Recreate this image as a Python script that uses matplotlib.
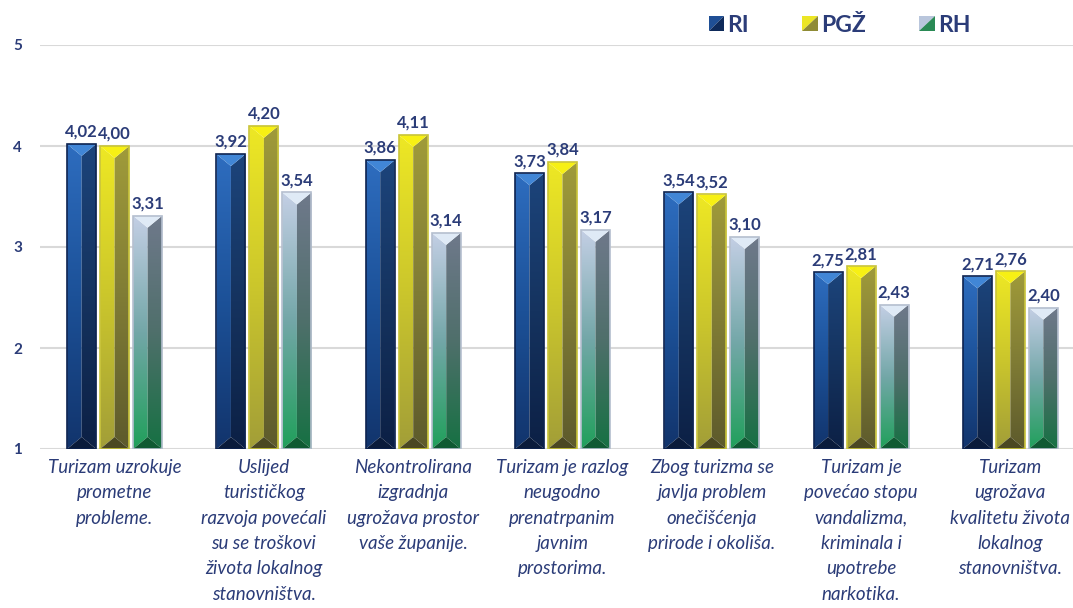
import numpy as np
import matplotlib.pyplot as plt
from matplotlib.patches import Polygon, Patch
from matplotlib.colors import LinearSegmentedColormap
from matplotlib.legend_handler import HandlerBase

plt.rcParams['font.family'] = ['Lato', 'DejaVu Sans']

# --- podaci ---
categories = [
    "Turizam uzrokuje\nprometne\nprobleme.",
    "Uslijed\nturističkog\nrazvoja povećali\nsu se troškovi\nživota lokalnog\nstanovništva.",
    "Nekontrolirana\nizgradnja\nugrožava prostor\nvaše županije.",
    "Turizam je razlog\nneugodno\nprenatrpanim\njavnim\nprostorima.",
    "Zbog turizma se\njavlja problem\nonečišćenja\nprirode i okoliša.",
    "Turizam je\npovećao stopu\nvandalizma,\nkriminala i\nupotrebe\nnarkotika.",
    "Turizam\nugrožava\nkvalitetu života\nlokalnog\nstanovništva.",
]
ri = [4.02, 3.92, 3.86, 3.73, 3.54, 2.75, 2.71]
pgz = [4.00, 4.20, 4.11, 3.84, 3.52, 2.81, 2.76]
rh = [3.31, 3.54, 3.14, 3.17, 3.10, 2.43, 2.40]
series_names = ["RI", "PGŽ", "RH"]
y_ticks = [1, 2, 3, 4, 5]

NAVY = "#2b3c78"

# boje: lijevo lice (gore->dolje), desno lice, vrh, dno, rub
styles = {
    "RI": dict(left=["#2e6dbf", "#1c5198", "#12346c"], right=["#1c447b", "#15335f", "#0c2045"],
               cap="#4186d6", base="#0a1b3b", edge="#0d2350"),
    "PGŽ": dict(left=["#eee824", "#cbc62c", "#a29e38"], right=["#a09b3a", "#807c35", "#5d5a2c"],
                cap="#f7f014", base="#4b4822", edge="#c9c43a"),
    "RH": dict(left=["#c4cfe5", "#73a7a8", "#20a05b"], right=["#6f798b", "#4f6f6b", "#167143"],
               cap="#dfeaf6", base="#0f5a33", edge="#b5bfcf"),
}

W, H, DPI = 1073, 608, 100
fig = plt.figure(figsize=(W / DPI, H / DPI), dpi=DPI)
ax = fig.add_axes([40 / W, 159 / H, 1045 / W, 404 / H])

x = np.arange(len(categories))
bw = 0.195
step = 0.221
ylim = (1, 5)
ax.set_xlim(-0.5, len(categories) - 0.5)
ax.set_ylim(*ylim)

# dubina kosine u jedinicama podataka
ppu_y = 404 / (ylim[1] - ylim[0])
dh = 12 / ppu_y

grad = np.linspace(0, 1, 256).reshape(-1, 1)


def face(verts, colors, x0, x1, y0, y1):
    cmap = LinearSegmentedColormap.from_list("g", colors[::-1])
    poly = Polygon(verts, closed=True, facecolor="none", edgecolor="none")
    ax.add_patch(poly)
    im = ax.imshow(grad, cmap=cmap, extent=[x0, x1, y0, y1], origin="lower",
                   aspect="auto", zorder=2, interpolation="bilinear")
    im.set_clip_path(poly)


for k, (name, vals) in enumerate(zip(series_names, [ri, pgz, rh])):
    st = styles[name]
    bars = ax.bar(x + (k - 1) * step, np.array(vals) - ylim[0], bw, bottom=ylim[0],
                  color="none", edgecolor=st["edge"], linewidth=1.2, zorder=4)
    for b, v in zip(bars, vals):
        x0, y0 = b.get_x(), b.get_y()
        x1, y1 = x0 + b.get_width(), y0 + b.get_height()
        xc = (x0 + x1) / 2
        face([(x0, y0), (x0, y1), (xc, y1 - dh), (xc, y0 + dh)], st["left"], x0, x1, y0, y1)
        face([(xc, y0 + dh), (xc, y1 - dh), (x1, y1), (x1, y0)], st["right"], x0, x1, y0, y1)
        ax.add_patch(Polygon([(x0, y1), (x1, y1), (xc, y1 - dh)], closed=True,
                             facecolor=st["cap"], edgecolor="none", zorder=3))
        ax.add_patch(Polygon([(x0, y0), (x1, y0), (xc, y0 + dh)], closed=True,
                             facecolor=st["base"], edgecolor="none", zorder=3))
        ax.annotate(f"{v:.2f}".replace(".", ","), (xc, y1), xytext=(0, 3),
                    textcoords="offset points", ha="center", va="bottom",
                    fontsize=12, color=NAVY, fontweight="bold")

ax.set_xlim(-0.5, len(categories) - 0.5)
ax.set_ylim(*ylim)

ax.set_yticks(y_ticks)
ax.set_yticklabels([str(t) for t in y_ticks], fontsize=11, fontweight="bold", color=NAVY)
ax.set_xticks(x)
ax.set_xticklabels(categories, fontsize=13.5, fontstyle="italic", color=NAVY, linespacing=1.6,
                   va="top")
ax.tick_params(axis="both", length=0)
ax.tick_params(axis="y", pad=13)
ax.tick_params(axis="x", pad=7)
ax.yaxis.grid(True, color="#d9d9d9", linewidth=1.5, zorder=0)
ax.set_axisbelow(True)
for sp in ax.spines.values():
    sp.set_visible(False)


class BevelHandler(HandlerBase):
    def __init__(self, light, dark):
        super().__init__()
        self.light, self.dark = light, dark

    def create_artists(self, legend, orig_handle, xdescent, ydescent, width, height, fontsize, trans):
        s = height * 0.95
        x0 = -xdescent + width - s
        y0 = -ydescent + (height - s) / 2
        a = Polygon([(x0, y0), (x0, y0 + s), (x0 + s, y0 + s)], closed=True,
                    facecolor=self.light, edgecolor="none", transform=trans)
        b = Polygon([(x0, y0), (x0 + s, y0), (x0 + s, y0 + s)], closed=True,
                    facecolor=self.dark, edgecolor="none", transform=trans)
        return [a, b]


handles = [Patch(label=n) for n in series_names]
hmap = {
    handles[0]: BevelHandler("#1f4f95", "#0e2a5a"),
    handles[1]: BevelHandler("#ece625", "#8f8b36"),
    handles[2]: BevelHandler("#b9c6dc", "#2a8a55"),
}
leg = fig.legend(handles=handles, handler_map=hmap, loc="center",
                 bbox_to_anchor=(838 / W, 1 - 25 / H), ncol=3, frameon=False,
                 fontsize=16.5, handlelength=0.8, handletextpad=0.15, columnspacing=2.2)
for t in leg.get_texts():
    t.set_color(NAVY)
    t.set_fontweight("bold")

fig.savefig("out.png", dpi=DPI)
